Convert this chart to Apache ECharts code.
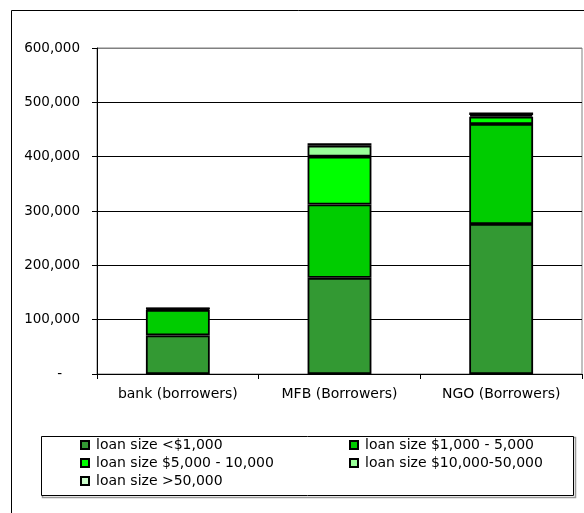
<!DOCTYPE html>
<html>
<head>
<meta charset="utf-8">
<script src="https://cdn.jsdelivr.net/npm/echarts@6/dist/echarts.min.js"></script>
<style>
  html, body { margin: 0; padding: 0; background: #fff; }
  #chart { width: 584px; height: 513px; }
</style>
</head>
<body>
<div id="chart"></div>
<script>
// Borrowers by loan size, per institution type
const categories = ['bank (borrowers)', 'MFB (Borrowers)', 'NGO (Borrowers)'];
const seriesNames = [
  'loan size <$1,000',
  'loan size $1,000 - 5,000',
  'loan size $5,000 - 10,000',
  'loan size $10,000-50,000',
  'loan size >50,000'
];
const under1k   = [71000, 177000, 276000];
const from1kTo5k  = [47000, 135000, 184000];
const from5kTo10k = [2000, 88000, 13500];
const from10kTo50k = [800, 20000, 3000];
const over50k   = [200, 4500, 5000];
const yTicks = [0, 100000, 200000, 300000, 400000, 500000, 600000];

const seriesData = [under1k, from1kTo5k, from5kTo10k, from10kTo50k, over50k];
const colors = ['#339933', '#00CC00', '#00FF00', '#99FF99', '#CCFFCC'];
const FONT = 'DejaVu Sans';

const chart = echarts.init(document.getElementById('chart'), null, { renderer: 'canvas' });

const option = {
  backgroundColor: '#fff',
  animation: false,
  grid: {
    left: 97, right: 2, top: 48, bottom: 139,
    show: true, borderColor: '#808080', borderWidth: 1, backgroundColor: 'transparent'
  },
  xAxis: {
    type: 'category',
    data: categories,
    axisLine: { lineStyle: { color: '#000', width: 1 } },
    axisTick: { show: true, length: 5, lineStyle: { color: '#000' } },
    axisLabel: { color: '#000', fontFamily: FONT, fontSize: 14, margin: 13 },
    splitLine: { show: false }
  },
  yAxis: {
    type: 'value',
    min: yTicks[0],
    max: yTicks[yTicks.length - 1],
    interval: yTicks[1] - yTicks[0],
    axisLine: { show: true, lineStyle: { color: '#000', width: 1 } },
    axisTick: { show: true, length: 5, lineStyle: { color: '#000' } },
    axisLabel: {
      color: '#000', fontFamily: FONT, fontSize: 13.5, margin: 17,
      formatter: function (v) {
        if (v === 0) return '{z|-}';
        return v.toLocaleString('en-US');
      },
      rich: { z: { fontFamily: FONT, fontSize: 13.5, color: '#000', padding: [0, 18, 0, 0] } }
    },
    splitLine: {
      show: true,
      lineStyle: { color: ['#000', '#000', '#000', '#000', '#000', '#000', '#808080'], width: 1 }
    }
  },
  legend: {
    left: 80, top: 436, width: 560,
    orient: 'horizontal',
    itemWidth: 8, itemHeight: 8, itemGap: 0,
    icon: 'rect',
    padding: 0,
    textStyle: { fontFamily: FONT, fontSize: 14, color: '#000', width: 253, lineHeight: 18, padding: [0, 0, 0, 2] },
    data: seriesNames
  },
  graphic: [
    // outer chart frame
    { type: 'rect', silent: true, z: -10,
      shape: { x: 11.5, y: 10.5, width: 620, height: 620 },
      style: { fill: 'none', stroke: '#000', lineWidth: 1 } },
    // legend frame with soft shadow
    { type: 'rect', silent: true, z: -9,
      shape: { x: 42.5, y: 437.5, width: 533, height: 60 },
      style: { fill: 'none', stroke: '#999', lineWidth: 1.5 } },
    { type: 'rect', silent: true, z: -8,
      shape: { x: 41.5, y: 436.5, width: 532, height: 59 },
      style: { fill: '#fff', stroke: '#000', lineWidth: 1 } }
  ],
  series: seriesNames.map(function (name, i) {
    return {
      name: name,
      type: 'bar',
      stack: 'total',
      barWidth: '39.5%',
      data: seriesData[i],
      itemStyle: { color: colors[i], borderColor: '#000', borderWidth: 1.8 },
      emphasis: { disabled: true }
    };
  })
};

chart.setOption(option);
</script>
</body>
</html>
